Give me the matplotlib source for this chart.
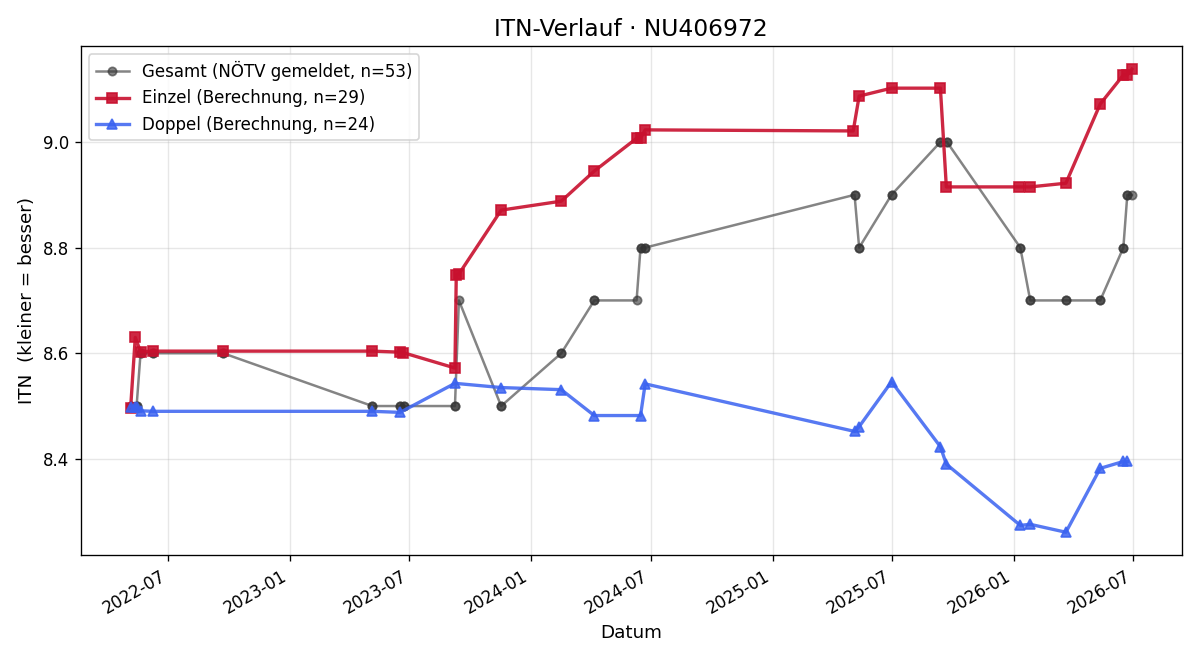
import matplotlib
matplotlib.use("Agg")
import matplotlib.pyplot as plt
import matplotlib.dates as mdates
import pandas as pd

# Gesamt (NÖTV gemeldet) - doppelte Einträge überlagern sich
gesamt_daten = ["2022-05-06", "2022-05-06", "2022-05-14", "2022-05-14", "2022-05-20", "2022-05-20",
                "2022-06-08", "2022-06-08", "2022-09-22", "2022-09-22", "2023-05-06", "2023-05-06",
                "2023-06-17", "2023-06-17", "2023-06-23", "2023-06-23", "2023-09-08", "2023-09-08",
                "2023-09-14", "2023-11-17", "2023-11-17", "2024-02-16", "2024-02-16",
                "2024-04-06", "2024-04-06", "2024-06-09", "2024-06-15", "2024-06-15",
                "2024-06-22", "2024-06-22", "2025-05-05", "2025-05-05", "2025-05-12", "2025-05-12",
                "2025-06-30", "2025-06-30", "2025-09-12", "2025-09-12", "2025-09-22", "2025-09-22",
                "2026-01-11", "2026-01-11", "2026-01-26", "2026-01-26", "2026-03-21", "2026-03-21",
                "2026-05-12", "2026-05-12", "2026-06-16", "2026-06-16", "2026-06-22", "2026-06-22",
                "2026-06-29"]
gesamt_itn = [8.5, 8.5, 8.5, 8.5, 8.6, 8.6,
              8.6, 8.6, 8.6, 8.6, 8.5, 8.5,
              8.5, 8.5, 8.5, 8.5, 8.5, 8.5,
              8.7, 8.5, 8.5, 8.6, 8.6,
              8.7, 8.7, 8.7, 8.8, 8.8,
              8.8, 8.8, 8.9, 8.9, 8.8, 8.8,
              8.9, 8.9, 9.0, 9.0, 9.0, 9.0,
              8.8, 8.8, 8.7, 8.7, 8.7, 8.7,
              8.7, 8.7, 8.8, 8.8, 8.9, 8.9,
              8.9]

einzel_daten = ["2022-05-05", "2022-05-12", "2022-05-20", "2022-06-08", "2022-09-22",
                "2023-05-06", "2023-06-17", "2023-06-22", "2023-09-08", "2023-09-10",
                "2023-09-14", "2023-11-17", "2024-02-16", "2024-04-06", "2024-06-09",
                "2024-06-15", "2024-06-22", "2025-05-03", "2025-05-12", "2025-06-30",
                "2025-09-12", "2025-09-21", "2026-01-09", "2026-01-26", "2026-03-21",
                "2026-05-12", "2026-06-16", "2026-06-22", "2026-06-29"]
einzel_itn = [8.497, 8.630, 8.603, 8.604, 8.604,
              8.604, 8.602, 8.601, 8.572, 8.748,
              8.750, 8.871, 8.888, 8.945, 9.007,
              9.007, 9.023, 9.021, 9.087, 9.102,
              9.102, 8.915, 8.915, 8.915, 8.922,
              9.072, 9.127, 9.127, 9.138]

doppel_daten = ["2022-05-06", "2022-05-12", "2022-05-14", "2022-05-20", "2022-06-08",
                "2023-05-06", "2023-06-17", "2023-09-08", "2023-11-17", "2024-02-16",
                "2024-04-06", "2024-06-15", "2024-06-22", "2025-05-05", "2025-05-12",
                "2025-06-30", "2025-09-12", "2025-09-21", "2026-01-11", "2026-01-26",
                "2026-03-21", "2026-05-12", "2026-06-16", "2026-06-22"]
doppel_itn = [8.499, 8.499, 8.499, 8.491, 8.490,
              8.490, 8.488, 8.543, 8.535, 8.531,
              8.482, 8.482, 8.542, 8.452, 8.461,
              8.546, 8.423, 8.390, 8.274, 8.276,
              8.261, 8.382, 8.395, 8.395]

fig, ax = plt.subplots(figsize=(10, 5.5), dpi=120)

ax.plot(pd.to_datetime(gesamt_daten), gesamt_itn, marker='o', color='#333333', alpha=0.6,
        linewidth=1.5, markersize=5, label="Gesamt (NÖTV gemeldet, n=53)")
ax.plot(pd.to_datetime(einzel_daten), einzel_itn, marker='s', color='#c8102e', alpha=0.9,
        linewidth=2, markersize=6, label="Einzel (Berechnung, n=29)")
ax.plot(pd.to_datetime(doppel_daten), doppel_itn, marker='^', color='#3a62f0', alpha=0.85,
        linewidth=2, markersize=6, label="Doppel (Berechnung, n=24)")

ax.set_title("ITN-Verlauf · NU406972", fontsize=14)
ax.set_xlabel("Datum", fontsize=11)
ax.set_ylabel("ITN  (kleiner = besser)", fontsize=11)
ax.xaxis.set_major_locator(mdates.MonthLocator(bymonth=[1, 7]))
ax.xaxis.set_major_formatter(mdates.DateFormatter('%Y-%m'))
ax.grid(True, alpha=0.3)
ax.legend(loc='upper left')
fig.autofmt_xdate()
fig.tight_layout()
fig.savefig("out.png")
